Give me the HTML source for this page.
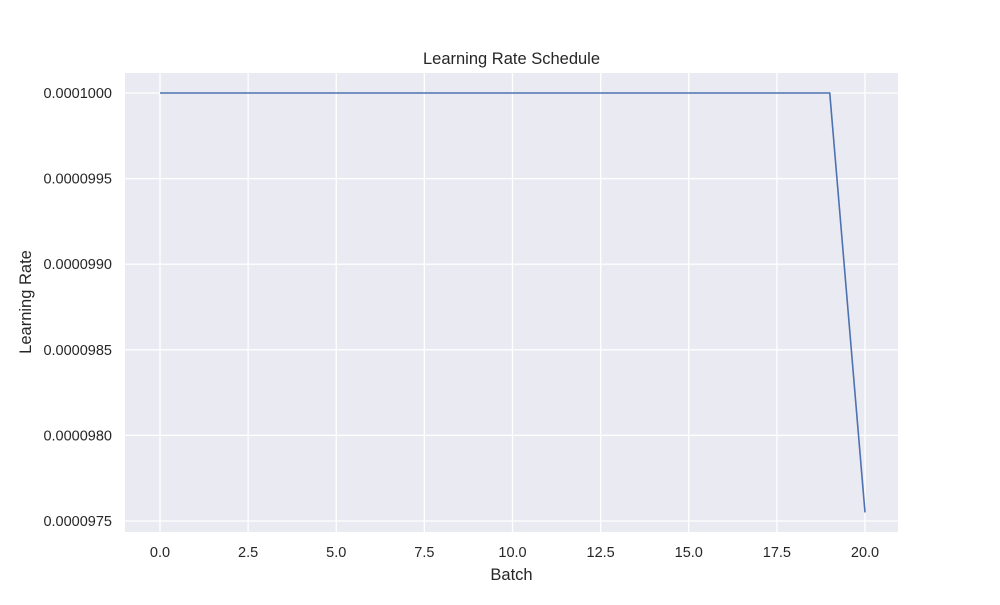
<!DOCTYPE html>
<html><head><meta charset="utf-8"><style>
html,body{margin:0;padding:0;background:#fff;}
svg text{font-family:"Liberation Sans","DejaVu Sans",sans-serif;fill:#262626;}
</style></head><body>
<svg id="chart" width="1000" height="600" xmlns="http://www.w3.org/2000/svg">
<rect x="125" y="73" width="773" height="459" fill="#eaeaf2"/>
<g id="grid"></g>
<g id="ticks"></g>
<polyline id="line" fill="none" stroke="#4c72b0" stroke-width="1.6"/>
<text x="511.5" y="64" font-size="16.5" text-anchor="middle">Learning Rate Schedule</text>
<text x="511.5" y="580" font-size="16.5" text-anchor="middle">Batch</text>
<text x="31" y="302" font-size="16.5" text-anchor="middle" transform="rotate(-90 31 302)">Learning Rate</text>
</svg>
<script>
const batches=[0,1,2,3,4,5,6,7,8,9,10,11,12,13,14,15,16,17,18,19,20];
const lrValues=[0.0001,0.0001,0.0001,0.0001,0.0001,0.0001,0.0001,0.0001,0.0001,0.0001,0.0001,0.0001,0.0001,0.0001,0.0001,0.0001,0.0001,0.0001,0.0001,0.0001,0.00009755];
const xTicks=[0,2.5,5,7.5,10,12.5,15,17.5,20];
const xTickLabels=["0.0","2.5","5.0","7.5","10.0","12.5","15.0","17.5","20.0"];
const yTicks=[0.0000975,0.000098,0.0000985,0.000099,0.0000995,0.0001];
const yTickLabels=["0.0000975","0.0000980","0.0000985","0.0000990","0.0000995","0.0001000"];
const NS="http://www.w3.org/2000/svg";
function xs(v){return 160+(v-0)*(865-160)/20;}
function ys(v){return 521+(v-0.0000975)*(93-521)/0.0000025;}
const grid=document.getElementById('grid'),ticks=document.getElementById('ticks');
xTicks.forEach((t,i)=>{
 const l=document.createElementNS(NS,'line');
 l.setAttribute('x1',xs(t));l.setAttribute('x2',xs(t));l.setAttribute('y1',73);l.setAttribute('y2',532);
 l.setAttribute('stroke','#fff');l.setAttribute('stroke-width','1.3');
 
 
 grid.appendChild(l);
 const tx=document.createElementNS(NS,'text');
 tx.setAttribute('x',xs(t));tx.setAttribute('y',557);tx.setAttribute('font-size','14.5');tx.setAttribute('text-anchor','middle');
 tx.textContent=xTickLabels[i];
 
 
 ticks.appendChild(tx);
});
yTicks.forEach((t,i)=>{
 const l=document.createElementNS(NS,'line');
 l.setAttribute('x1',125);l.setAttribute('x2',898);l.setAttribute('y1',ys(t));l.setAttribute('y2',ys(t));
 l.setAttribute('stroke','#fff');l.setAttribute('stroke-width','1.3');
 
 
 grid.appendChild(l);
 const tx=document.createElementNS(NS,'text');
 tx.setAttribute('x',112);tx.setAttribute('y',ys(t)+5);tx.setAttribute('font-size','14.5');tx.setAttribute('text-anchor','end');
 tx.textContent=yTickLabels[i];
 
 
 ticks.appendChild(tx);
});
document.getElementById('line').setAttribute('points',batches.map((b,i)=>xs(b)+','+ys(lrValues[i])).join(' '));
</script>
</body></html>
